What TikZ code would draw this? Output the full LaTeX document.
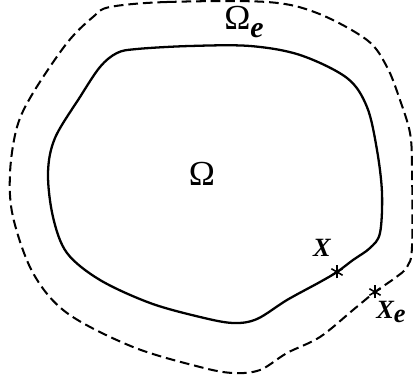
\documentclass[tikz,border=0pt]{standalone}
\usepackage{fontspec}
\setmainfont{Liberation Serif}
\usetikzlibrary{positioning}

\begin{document}
\begin{tikzpicture}[x=0.02cm,y=-0.02cm,
    inner/.style={line width=1.3pt},
    outer/.style={line width=1.15pt,dash pattern=on 5.5pt off 2.8pt},
    star/.style={line width=0.9pt},
    big/.style={font=\fontsize{20}{24}\selectfont},
    pt/.style={font=\fontsize{15}{18}\selectfont\bfseries\itshape}]
    \useasboundingbox (0,0) rectangle (413,381);
    % domain and its extension
    \draw[inner] plot[smooth cycle,tension=0.55] coordinates {
      (137,49) (190,46) (250,46) (300,55) (347,78) (367,107) (377,150)
      (382,193) (380,233) (370,248) (353,260) (337,272) (320,282)
      (287,300) (257,319) (233,323) (200,317) (150,303) (100,280)
      (67,253) (53,217) (48,173) (55,138) (80,97) (100,67) (117,53)};
    \draw[outer] plot[smooth cycle,tension=0.55] coordinates {
      (110,7) (167,2) (267,2) (317,13) (367,40) (387,67) (400,100)
      (410,133) (412,167) (412,247) (407,267) (395,278) (375,292)
      (353,310) (320,337) (287,353) (260,370) (233,373) (200,367)
      (133,347) (67,313) (33,273) (13,217) (10,173) (17,127) (33,93)
      (67,43) (93,17)};
    \coordinate (x) at (337,272);
    \coordinate (xe) at (375,292);
    \foreach \p in {x,xe}{%
      \foreach \a in {30,90,150}
        \draw[star] (\p) ++(\a:6.5) -- ++(\a+180:13);}
    \node[big] (omega) at (202,174) {Ω};
    \node[big] (omegae) at (244,22) {Ω\raisebox{-0.5ex}{\fontsize{17}{18}\selectfont\bfseries\itshape e}};
    \node[pt] (xlab) at (322,248) {X};
    \node[pt] (xelab) at (391,312) {X\raisebox{-0.4ex}{e}};
\end{tikzpicture}
\end{document}
